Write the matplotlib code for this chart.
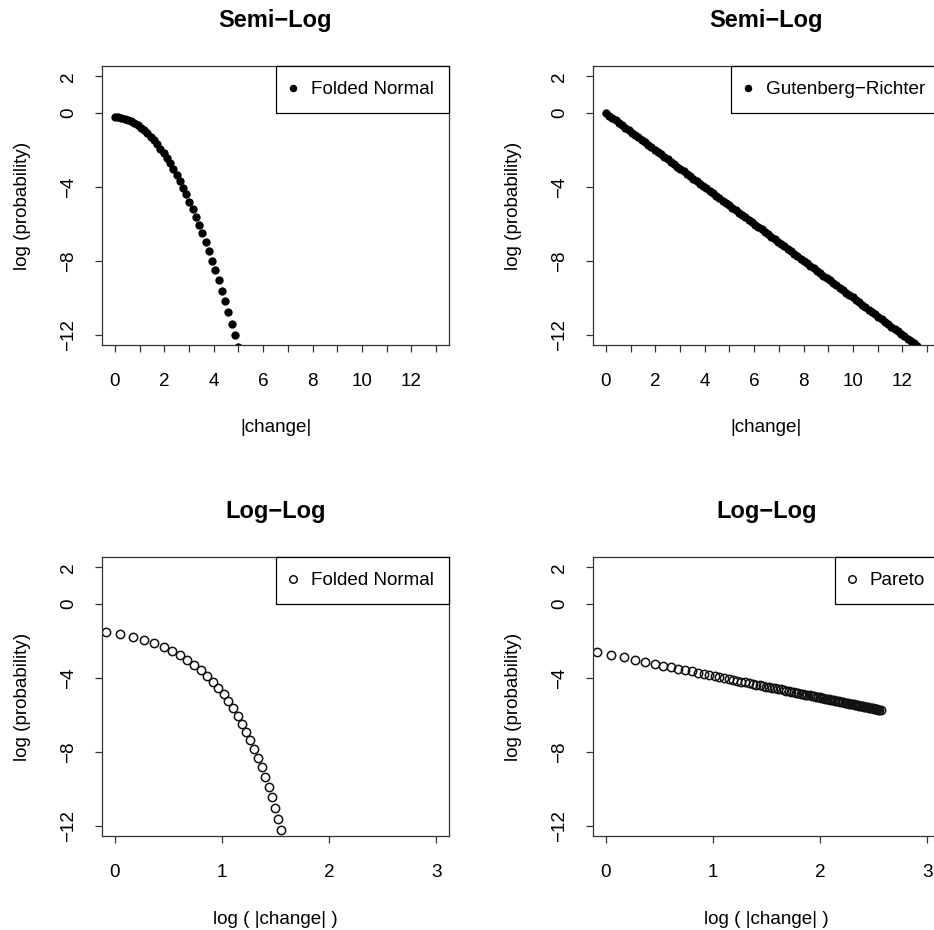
import numpy as np
import matplotlib
matplotlib.use("Agg")
import matplotlib.pyplot as plt

plt.rcParams["font.family"] = ["Liberation Sans", "DejaVu Sans"]

# |change| grid shared by all four panels
change = [
    0.000, 0.131, 0.263, 0.394, 0.525, 0.657, 0.788, 0.919, 1.051, 1.182,
    1.313, 1.444, 1.576, 1.707, 1.838, 1.970, 2.101, 2.232, 2.364, 2.495,
    2.626, 2.758, 2.889, 3.020, 3.152, 3.283, 3.414, 3.545, 3.677, 3.808,
    3.939, 4.071, 4.202, 4.333, 4.465, 4.596, 4.727, 4.859, 4.990, 5.121,
    5.253, 5.384, 5.515, 5.646, 5.778, 5.909, 6.040, 6.172, 6.303, 6.434,
    6.566, 6.697, 6.828, 6.960, 7.091, 7.222, 7.354, 7.485, 7.616, 7.747,
    7.879, 8.010, 8.141, 8.273, 8.404, 8.535, 8.667, 8.798, 8.929, 9.061,
    9.192, 9.323, 9.455, 9.586, 9.717, 9.848, 9.980, 10.111, 10.242, 10.374,
    10.505, 10.636, 10.768, 10.899, 11.030, 11.162, 11.293, 11.424, 11.556, 11.687,
    11.818, 11.949, 12.081, 12.212, 12.343, 12.475, 12.606, 12.737, 12.869, 13.000,
]

# log(probability), semi-log, folded normal (first 39 grid points)
folded_semi = [
    -0.23, -0.23, -0.26, -0.30, -0.36, -0.44, -0.54, -0.65, -0.78, -0.92,
    -1.09, -1.27, -1.47, -1.68, -1.92, -2.17, -2.43, -2.72, -3.02, -3.34,
    -3.67, -4.03, -4.40, -4.79, -5.19, -5.62, -6.05, -6.51, -6.99, -7.48,
    -7.99, -8.51, -9.05, -9.61, -10.19, -10.79, -11.40, -12.03, -12.68,
]

# log(probability), semi-log, Gutenberg-Richter (first 97 grid points)
gr_semi = [
    0.00, -0.13, -0.26, -0.39, -0.53, -0.66, -0.79, -0.92, -1.05, -1.18,
    -1.31, -1.44, -1.58, -1.71, -1.84, -1.97, -2.10, -2.23, -2.36, -2.49,
    -2.63, -2.76, -2.89, -3.02, -3.15, -3.28, -3.41, -3.55, -3.68, -3.81,
    -3.94, -4.07, -4.20, -4.33, -4.46, -4.60, -4.73, -4.86, -4.99, -5.12,
    -5.25, -5.38, -5.52, -5.65, -5.78, -5.91, -6.04, -6.17, -6.30, -6.43,
    -6.57, -6.70, -6.83, -6.96, -7.09, -7.22, -7.35, -7.48, -7.62, -7.75,
    -7.88, -8.01, -8.14, -8.27, -8.40, -8.54, -8.67, -8.80, -8.93, -9.06,
    -9.19, -9.32, -9.45, -9.59, -9.72, -9.85, -9.98, -10.11, -10.24, -10.37,
    -10.51, -10.64, -10.77, -10.90, -11.03, -11.16, -11.29, -11.42, -11.56, -11.69,
    -11.82, -11.95, -12.08, -12.21, -12.34, -12.47, -12.61,
]

# log(probability), log-log, folded normal (grid points 7..37)
folded_loglog = [
    -1.50, -1.63, -1.77, -1.94, -2.12, -2.32, -2.53, -2.77, -3.02, -3.28,
    -3.57, -3.87, -4.19, -4.52, -4.88, -5.25, -5.64, -6.04, -6.47, -6.90,
    -7.36, -7.84, -8.33, -8.84, -9.36, -9.90, -10.46, -11.04, -11.64, -12.25,
    -12.88,
]

# log(probability), log-log, Pareto (grid points 7..99)
pareto_loglog = [
    -2.58, -2.74, -2.88, -3.00, -3.12, -3.22, -3.32, -3.41, -3.49, -3.56,
    -3.64, -3.70, -3.77, -3.83, -3.89, -3.94, -4.00, -4.05, -4.09, -4.14,
    -4.19, -4.23, -4.27, -4.31, -4.35, -4.39, -4.43, -4.46, -4.50, -4.53,
    -4.56, -4.59, -4.62, -4.65, -4.68, -4.71, -4.74, -4.77, -4.79, -4.82,
    -4.85, -4.87, -4.90, -4.92, -4.94, -4.97, -4.99, -5.01, -5.03, -5.05,
    -5.08, -5.10, -5.12, -5.14, -5.16, -5.18, -5.19, -5.21, -5.23, -5.25,
    -5.27, -5.29, -5.30, -5.32, -5.34, -5.35, -5.37, -5.39, -5.40, -5.42,
    -5.43, -5.45, -5.46, -5.48, -5.49, -5.51, -5.52, -5.54, -5.55, -5.57,
    -5.58, -5.59, -5.61, -5.62, -5.63, -5.65, -5.66, -5.67, -5.68, -5.70,
    -5.71, -5.72, -5.73,
]

y_ticks = [-12, -8, -4, 0, 2]
semi_ticks = list(range(14))
semi_labels = [str(t) if t % 2 == 0 else "" for t in semi_ticks]
loglog_ticks = [0, 1, 2, 3]

W, H = 934, 930
fig = plt.figure(figsize=(W / 100, H / 100), dpi=100)
edge = "#333333"
fs = 13.6


def panel(left, top, xs, ys, filled, title, label, xlim, xticks, xlabels, xlabel):
    ax = fig.add_axes([left / W, 1 - (top + 279) / H, 347 / W, 279 / H])
    if filled:
        ax.plot(xs, ys, "o", color="black", ms=6.0, mew=0, label=label)
    else:
        ax.plot(xs, ys, "o", mfc="none", mec="#111111", ms=6.0, mew=1.1, label=label)
    ax.set_xlim(xlim)
    ax.set_ylim(-12.56, 2.56)
    ax.set_xticks(xticks)
    ax.set_xticklabels(xlabels)
    ax.set_yticks(y_ticks)
    for s in ax.spines.values():
        s.set_color(edge)
        s.set_linewidth(0.9)
    ax.tick_params(direction="out", length=5, width=0.9, color=edge, labelsize=fs)
    ax.tick_params(axis="x", pad=15)
    ax.tick_params(axis="y", pad=13, labelrotation=90)
    for t in ax.get_yticklabels():
        t.set_va("center")
    ax.annotate(title, (0.5, 1), xycoords="axes fraction", xytext=(0, 33),
                textcoords="offset points", ha="center", va="center",
                fontsize=17, fontweight="bold")
    ax.set_xlabel(xlabel, fontsize=fs)
    ax.xaxis.set_label_coords(0.5, -83 / 279)
    ax.xaxis.label.set_va("center")
    ax.set_ylabel("log (probability)", fontsize=fs)
    ax.yaxis.set_label_coords(-80 / 347, 0.5)
    ax.yaxis.label.set_va("center")
    leg = ax.legend(loc="upper right", borderaxespad=0, fancybox=False,
                    edgecolor="black", framealpha=1, fontsize=fs,
                    handlelength=0.2, handletextpad=0.85, borderpad=0.8,
                    markerscale=0.9)
    leg.get_frame().set_linewidth(0.9)
    return ax


# top row: semi-log
panel(102, 66, change[:39], folded_semi, True, "Semi\u2212Log", "Folded Normal",
      (-0.52, 13.52), semi_ticks, semi_labels, "|change|")
panel(593, 66, change[:97], gr_semi, True, "Semi\u2212Log", "Gutenberg\u2212Richter",
      (-0.52, 13.52), semi_ticks, semi_labels, "|change|")

# bottom row: log-log
panel(102, 557, np.log(change[7:38]), folded_loglog, False, "Log\u2212Log", "Folded Normal",
      (-0.12, 3.12), loglog_ticks, [str(t) for t in loglog_ticks], "log ( |change| )")
panel(593, 557, np.log(change[7:]), pareto_loglog, False, "Log\u2212Log", "Pareto",
      (-0.12, 3.12), loglog_ticks, [str(t) for t in loglog_ticks], "log ( |change| )")

fig.savefig("out.png", dpi=100)
